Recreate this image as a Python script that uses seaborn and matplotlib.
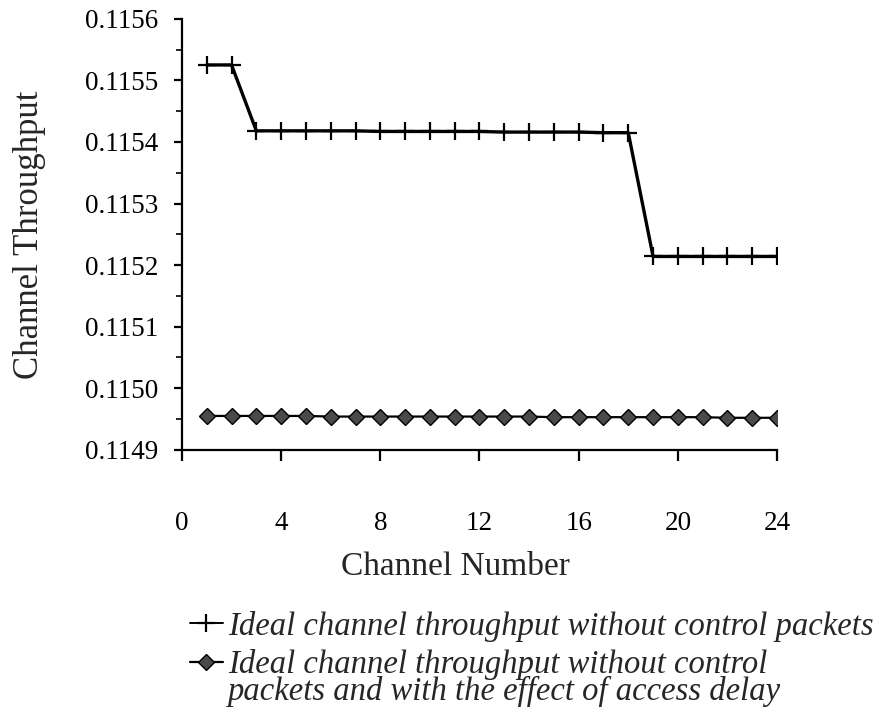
import numpy as np
import pandas as pd
import matplotlib
matplotlib.use("Agg")
import matplotlib.pyplot as plt
import seaborn as sns
from matplotlib.lines import Line2D
from matplotlib.ticker import MultipleLocator
from matplotlib.legend_handler import HandlerLine2D
from matplotlib.transforms import Affine2D

# Channel numbers 1..24
channels = list(range(1, 25))

# Ideal channel throughput without control packets
ideal = [0.115525, 0.115525,
         0.115418, 0.115418, 0.115418, 0.115418, 0.115418, 0.115417,
         0.115417, 0.115417, 0.115417, 0.115417, 0.115416, 0.115416,
         0.115416, 0.115416, 0.115415, 0.115415,
         0.115214, 0.115214, 0.115214, 0.115214, 0.115214, 0.115214]

# Ideal channel throughput with the effect of access delay
with_delay = [0.114955, 0.114955, 0.114955, 0.114955, 0.114955, 0.114954,
              0.114954, 0.114954, 0.114954, 0.114954, 0.114954, 0.114954,
              0.114954, 0.114954, 0.114953, 0.114953, 0.114953, 0.114953,
              0.114953, 0.114953, 0.114953, 0.114952, 0.114952, 0.114952]

x_ticks = [0, 4, 8, 12, 16, 20, 24]
y_ticks = [0.1149, 0.1150, 0.1151, 0.1152, 0.1153, 0.1154, 0.1155, 0.1156]

label_ideal = "Ideal channel throughput without control packets"
label_delay = ("Ideal channel throughput without control\n"
               "packets and with the effect of access delay")

df = pd.DataFrame({"channel": channels, "ideal": ideal, "delay": with_delay})

sns.set_style("ticks")
plt.rcParams["font.family"] = ["Liberation Serif", "DejaVu Serif"]

fig = plt.figure(figsize=(8.79, 7.22), dpi=100)
ax = fig.add_axes([0.207, 0.377, 0.677, 0.597])

sns.lineplot(data=df, x="channel", y="ideal", ax=ax, color="black",
             linewidth=2.4, marker="+", markersize=13, markeredgewidth=1.6,
             markeredgecolor="black")
sns.lineplot(data=df, x="channel", y="delay", ax=ax, color="black",
             linewidth=1.6, marker="D", markersize=8, markerfacecolor="#4a4a4a",
             markeredgecolor="black", markeredgewidth=1.0)

ax.set_xlim(0, 24)
ax.set_ylim(0.1149, 0.1156)
ax.set_xticks(x_ticks)
ax.set_xticklabels([str(t) for t in x_ticks])
ax.set_yticks(y_ticks)
ax.set_yticklabels([f"{t:.4f}" for t in y_ticks])
ax.yaxis.set_minor_locator(MultipleLocator(0.00005))

sns.despine(ax=ax)
for s in ("left", "bottom"):
    ax.spines[s].set_linewidth(1.6)
    ax.spines[s].set_color("black")

ax.tick_params(axis="y", which="major", direction="out", length=6, width=1.6,
               labelsize=19.5, pad=11, colors="black")
ax.tick_params(axis="y", which="minor", direction="out", length=4, width=1.4)
ax.tick_params(axis="x", which="major", direction="out", length=8, width=1.6,
               labelsize=19.5, pad=36, colors="black")

ax.set_xlabel("Channel Number", fontsize=24)
ax.xaxis.set_label_coords(0.459, -0.272)
ax.xaxis.label.set_verticalalignment("center")
ax.set_ylabel("Channel Throughput", fontsize=25, labelpad=28)


class TopLineHandler(HandlerLine2D):
    """Line handle lifted so it sits beside the first line of a wrapped label."""

    def __init__(self, lift, **kw):
        super().__init__(**kw)
        self.lift = lift

    def create_artists(self, legend, orig_handle, xdescent, ydescent,
                       width, height, fontsize, trans):
        artists = super().create_artists(legend, orig_handle, xdescent,
                                         ydescent, width, height, fontsize,
                                         trans)
        shifted = Affine2D().translate(0, self.lift) + trans
        for a in artists:
            a.set_transform(shifted)
        return artists


h_ideal = Line2D([], [], color="black", linewidth=1.4, marker="+",
                 markersize=13, markeredgewidth=1.6)
h_delay = Line2D([], [], color="black", linewidth=1.6, marker="D",
                 markersize=8, markerfacecolor="#4a4a4a",
                 markeredgecolor="black")

leg = fig.legend([h_ideal, h_delay], [label_ideal, label_delay],
                 loc="upper left", bbox_to_anchor=(0.2162, 0.154),
                 frameon=False, borderpad=0, borderaxespad=0,
                 prop={"family": "Liberation Serif", "style": "italic",
                       "size": 23.5},
                 handlelength=1.0, handletextpad=0.17, labelspacing=0.22,
                 handler_map={h_delay: TopLineHandler(lift=12)})
for t in leg.get_texts():
    t.set_linespacing(0.85)

fig.savefig("out.png", dpi=100)
